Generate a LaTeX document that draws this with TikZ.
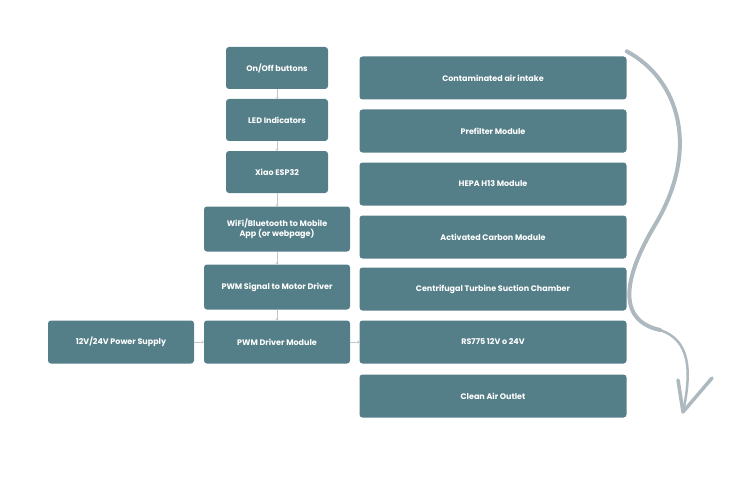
\documentclass[tikz,border=0pt]{standalone}
\usepackage{fontspec}
\setmainfont{Poppins}
\usetikzlibrary{arrows.meta}
\definecolor{boxteal}{HTML}{557F88}
\definecolor{flowgray}{HTML}{ADB9BF}
\begin{document}
\begin{tikzpicture}[x=1pt,y=-1pt,
    block/.style={rectangle, rounded corners=3pt, fill=boxteal, text=white, font=\bfseries\fontsize{8}{10}\selectfont, align=center, inner sep=2pt},
    small/.style={block, minimum width=102pt, minimum height=42pt},
    wide/.style={block, minimum width=146pt, minimum height=45pt},
    stage/.style={block, minimum width=267pt, minimum height=43pt},
    link/.style={draw=flowgray!80, line width=0.6pt, -{To[length=2pt,width=3pt]}}]
    \useasboundingbox (0,0) rectangle (752,484);

    % Control column
    \node[small] (buttons) at (277,68) {On/Off buttons};
    \node[small] (led) at (277,120) {LED Indicators};
    \node[small] (esp) at (277,172) {Xiao ESP32};
    \node[wide] (wifi) at (277,229) {WiFi/Bluetooth to Mobile\\App (or webpage)};
    \node[wide] (signal) at (277,287) {PWM Signal to Motor Driver};
    \node[wide, minimum height=43pt] (driver) at (277,342) {PWM Driver Module};
    \node[wide, minimum height=43pt] (power) at (121,342) {12V/24V Power Supply};

    % Air path column
    \node[stage] (intake) at (493,78) {Contaminated air intake};
    \node[stage] (prefilter) at (493,131) {Prefilter Module};
    \node[stage] (hepa) at (493,184) {HEPA H13 Module};
    \node[stage] (carbon) at (493,237) {Activated Carbon Module};
    \node[stage] (turbine) at (493,289) {Centrifugal Turbine Suction Chamber};
    \node[stage] (motor) at (493,342) {RS775 12V o 24V};
    \node[stage] (outlet) at (493,396) {Clean Air Outlet};

    % Connections
    \draw[link] (buttons) -- (led);
    \draw[link] (led) -- (esp);
    \draw[link] (esp) -- (wifi);
    \draw[link] (wifi) -- (signal);
    \draw[link] (signal) -- (driver);
    \draw[link] (power) -- (driver);
    \draw[link] (driver) -- (motor);

    % Air flow
    \coordinate (flowstart) at (intake.north east);
    \coordinate (flowend) at (683,412);
    \draw[flowgray, line width=4pt, line cap=round]
        ([yshift=5pt]flowstart) .. controls (680,80) and (700,150) .. (655,225)
        .. controls (625,275) and (615,320) .. (660,330);
    \draw[flowgray, line width=2.5pt, line cap=round]
        (660,330) .. controls (690,340) and (692,370) .. (flowend);
    \draw[flowgray, line width=3.5pt, line cap=round, line join=round]
        (678,380) -- (flowend) -- (712,378);
\end{tikzpicture}
\end{document}
